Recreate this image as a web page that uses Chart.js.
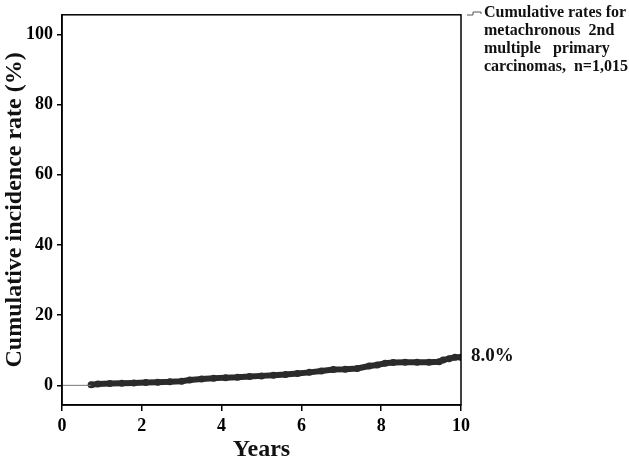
<!DOCTYPE html>
<html>
<head>
<meta charset="utf-8">
<script src="https://cdn.jsdelivr.net/npm/chart.js@4/dist/chart.umd.min.js"></script>
<style>
  html, body { margin: 0; padding: 0; background: #fff; }
  #wrap { width: 629px; height: 464px; position: relative; }
</style>
</head>
<body>
<div id="wrap"><canvas id="chart"></canvas></div>
<script>
const years = [0.73, 0.9, 1.2, 1.5, 1.8, 2.1, 2.4, 2.7, 3.0, 3.2, 3.5, 3.8, 4.1, 4.4, 4.7, 5.0, 5.3, 5.6, 5.9, 6.2, 6.5, 6.8, 7.1, 7.4, 7.7, 7.9, 8.1, 8.3, 8.6, 8.9, 9.2, 9.45, 9.55, 9.7, 9.85, 10.0]
const rates = [0.2, 0.4, 0.5, 0.6, 0.7, 0.8, 0.9, 1.0, 1.2, 1.5, 1.8, 2.0, 2.2, 2.3, 2.5, 2.7, 2.9, 3.1, 3.4, 3.7, 4.1, 4.5, 4.6, 4.8, 5.5, 5.8, 6.3, 6.5, 6.6, 6.6, 6.6, 6.7, 7.2, 7.6, 8.0, 8.0]
const leadYears = [0, 0.73]
const leadRates = [0, 0]
const yTicks = [0, 20, 40, 60, 80, 100]
const legendLines = ['Cumulative rates for', 'metachronous  2nd', 'multiple   primary', 'carcinomas,  n=1,015']
const endLabel = '8.0%'

const serif = '"Liberation Serif", "Times New Roman", serif'

const boxPlugin = {
    id: 'box',
    afterDraw(chart) {
        const {ctx, chartArea} = chart
        ctx.save()
        ctx.strokeStyle = '#000'
        ctx.lineWidth = 1.5
        ctx.strokeRect(chartArea.left, chartArea.top, chartArea.right - chartArea.left, chartArea.bottom - chartArea.top)

        // legend glyph
        const lx = chartArea.right + 6
        const ly = 13
        ctx.strokeStyle = '#555'
        ctx.lineWidth = 1
        ctx.beginPath()
        ctx.moveTo(lx, ly + 2)
        ctx.lineTo(lx + 6, ly + 2)
        ctx.lineTo(lx + 6, ly - 1)
        ctx.lineTo(lx + 14, ly - 1)
        ctx.lineTo(lx + 14, ly + 1)
        ctx.stroke()

        ctx.fillStyle = '#111'
        ctx.font = 'bold 16px ' + serif
        ctx.textBaseline = 'middle'
        ctx.textAlign = 'left'
        legendLines.forEach((t, i) => {
            ctx.fillText(t, lx + 17, ly + i * 18)
        })

        // end value label
        const y = chart.scales.y.getPixelForValue(rates[rates.length - 1])
        ctx.font = 'bold 19px ' + serif
        ctx.fillText(endLabel, chartArea.right + 10, y - 1)
        ctx.restore()
    }
}

const ctx = document.getElementById('chart')

const chart = new Chart(ctx, {
    type: 'line',
    data: {
        datasets: [{
            label: 'lead',
            data: leadYears.map((x, i) => ({x: x, y: leadRates[i]})),
            borderColor: '#777',
            borderWidth: 1,
            pointRadius: 0
        }, {
            label: 'Cumulative rates',
            data: years.map((x, i) => ({x: x, y: rates[i]})),
            borderColor: '#2b2b2b',
            backgroundColor: '#2b2b2b',
            borderWidth: 6,
            pointRadius: 3.5,
            pointBorderWidth: 0,
            tension: 0
        }]
    },
    options: {
        responsive: true,
        maintainAspectRatio: false,
        animation: false,
        layout: {
            padding: {top: 7, right: 168, left: 0, bottom: 0}
        },
        plugins: {
            legend: {display: false},
            tooltip: {enabled: false}
        },
        scales: {
            x: {
                type: 'linear',
                min: 0,
                max: 10,
                ticks: {
                    stepSize: 2,
                    color: '#000',
                    padding: 5,
                    font: {family: serif, size: 18, weight: 'bold'}
                },
                grid: {drawOnChartArea: false, drawTicks: true, tickLength: 6, color: '#000', lineWidth: 1.5},
                border: {display: true, color: '#000', width: 1.5},
                title: {
                    display: true,
                    text: 'Years',
                    color: '#111',
                    padding: 0,
                    font: {family: serif, size: 24, weight: 'bold'}
                },
                afterFit: (scale) => { scale.height = 59 }
            },
            y: {
                min: -5.6,
                max: 105.6,
                afterBuildTicks: (scale) => { scale.ticks = yTicks.map(v => ({value: v})) },
                ticks: {
                    color: '#000',
                    padding: 4,
                    font: {family: serif, size: 18, weight: 'bold'}
                },
                grid: {drawOnChartArea: false, drawTicks: true, tickLength: 5, color: '#000', lineWidth: 1.5},
                border: {display: true, color: '#000', width: 1.5},
                title: {
                    display: true,
                    text: 'Cumulative incidence rate (%)',
                    color: '#111',
                    padding: 0,
                    font: {family: serif, size: 24, weight: 'bold'}
                },
                afterFit: (scale) => { scale.width = 62 }
            }
        }
    },
    plugins: [boxPlugin]
})
</script>
</body>
</html>
